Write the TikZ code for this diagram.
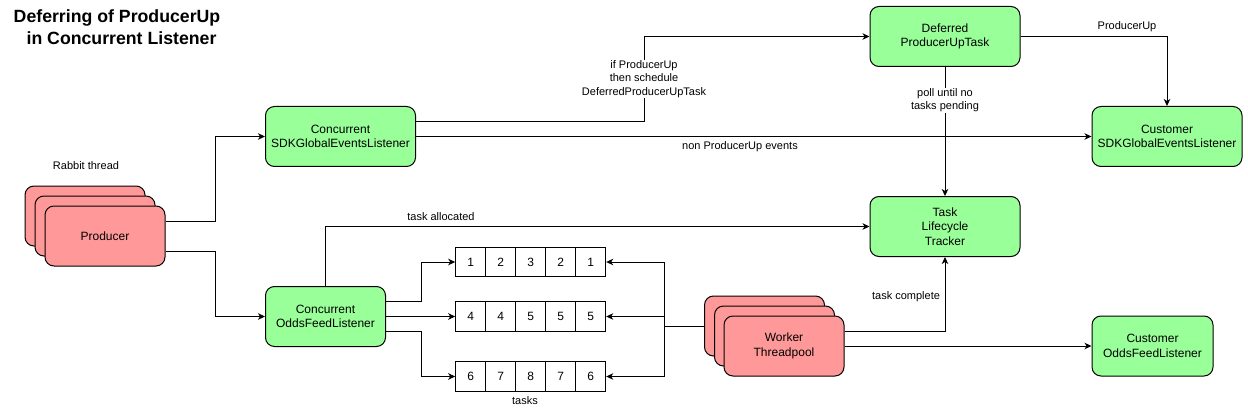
\documentclass[tikz,border=0pt]{standalone}
\usepackage{fontspec}
\setmainfont{Liberation Sans}
\usetikzlibrary{arrows.meta}
\definecolor{boxgreen}{HTML}{99FF99}
\definecolor{boxred}{HTML}{FF9999}
\begin{document}
\begin{tikzpicture}[x=1pt,y=-1pt,
  base/.style={draw=black,line width=1pt,rounded corners=9pt,align=center,inner sep=0pt,font=\fontsize{12}{14.4}\selectfont},
  gbox/.style={base,fill=boxgreen,minimum width=150pt,minimum height=60pt},
  rbox/.style={base,fill=boxred,minimum width=120pt,minimum height=60pt},
  cell/.style={draw=black,line width=1pt,minimum width=30pt,minimum height=29.5pt,inner sep=0pt,font=\fontsize{12}{14.4}\selectfont},
  lbl/.style={font=\fontsize{11}{13.2}\selectfont,align=center,inner sep=1pt},
  ttl/.style={inner sep=0pt,font=\bfseries\fontsize{17.7}{20}\selectfont},
  arr/.style={draw=black,line width=1pt,-{Stealth[length=7pt,width=6.5pt,inset=2pt]}}]
\useasboundingbox (0,0) rectangle (1248,417);

% title and free labels
\node[ttl] (title1) at (117,18) {Deferring of ProducerUp};
\node[ttl] (title2) at (121.5,38) {in Concurrent Listener};
\node[lbl] (rt) at (86,166) {Rabbit thread};
\node[lbl] (tasks) at (525,401) {tasks};

% producer stack
\node[rbox] (p1) at (85,216) {};
\node[rbox] (p2) at (95,226) {};
\node[rbox] (p3) at (105,236) {Producer};

% listeners and tasks
\node[gbox] (csdk) at (340.5,136.5) {Concurrent\\SDKGlobalEventsListener};
\node[gbox,minimum width=120pt] (codds) at (325.5,316.5) {Concurrent\\OddsFeedListener};
\node[gbox] (def) at (945,36.5) {Deferred\\ProducerUpTask};
\node[gbox] (cust) at (1167,136.5) {Customer\\SDKGlobalEventsListener};
\node[gbox] (tlt) at (945,226.5) {Task\\Lifecycle\\Tracker};
\node[gbox,minimum width=121pt] (codf) at (1152.5,346) {Customer\\OddsFeedListener};

% worker stack
\node[rbox] (w1) at (764.5,326) {};
\node[rbox] (w2) at (774.5,336) {};
\node[rbox] (w3) at (784,346) {Worker\\Threadpool};

% queues
\foreach \v [count=\i] in {1,2,3,2,1} \node[cell] (qa\i) at (440.7+30*\i,262) {\v};
\foreach \v [count=\i] in {4,4,5,5,5} \node[cell] (qb\i) at (440.7+30*\i,316.5) {\v};
\foreach \v [count=\i] in {6,7,8,7,6} \node[cell] (qc\i) at (440.7+30*\i,376.5) {\v};

% connectors
\draw[arr] ([yshift=15pt]p3.east) -- ++(50,0) |- (csdk.west);
\draw[arr] ([yshift=-15pt]p3.east) -- ++(50,0) |- (codds.west);

\draw[arr] ([yshift=15pt]csdk.east) -- ++(228,0) |- node[pos=0.25,lbl,fill=white] {if ProducerUp\\then schedule\\DeferredProducerUpTask} (def.west);
\draw[arr] (csdk.east) -- (cust.west);
\node[lbl] (npu) at (740,147) {non ProducerUp events};

\draw[arr] (def.east) -| (cust.north);
\node[lbl] (pu) at (1127,27) {ProducerUp};
\draw[arr] (def.south) -- node[pos=0.26,lbl,fill=white] {poll until no\\tasks pending} (tlt.north);

\draw[arr] (codds.north) |- (tlt.west);
\node[lbl] (ta) at (441,217) {task allocated};

\draw[arr] ([yshift=15pt]codds.east) -- ++(35,0) |- (qa1.west);
\draw[arr] (codds.east) -- (qb1.west);
\draw[arr] ([yshift=-15pt]codds.east) -- ++(35,0) |- (qc1.west);

\draw[arr] (w1.west) -- ++(-40,0) |- (qa5.east);
\draw[arr] (w1.west) -- ++(-40,0) |- (qb5.east);
\draw[arr] (w1.west) -- ++(-40,0) |- (qc5.east);

\draw[arr] ([yshift=15pt]w3.east) -| (tlt.south);
\node[lbl] (tc) at (906,297) {task complete};
\draw[arr] (w3.east) -- (codf.west);
\end{tikzpicture}
\end{document}
